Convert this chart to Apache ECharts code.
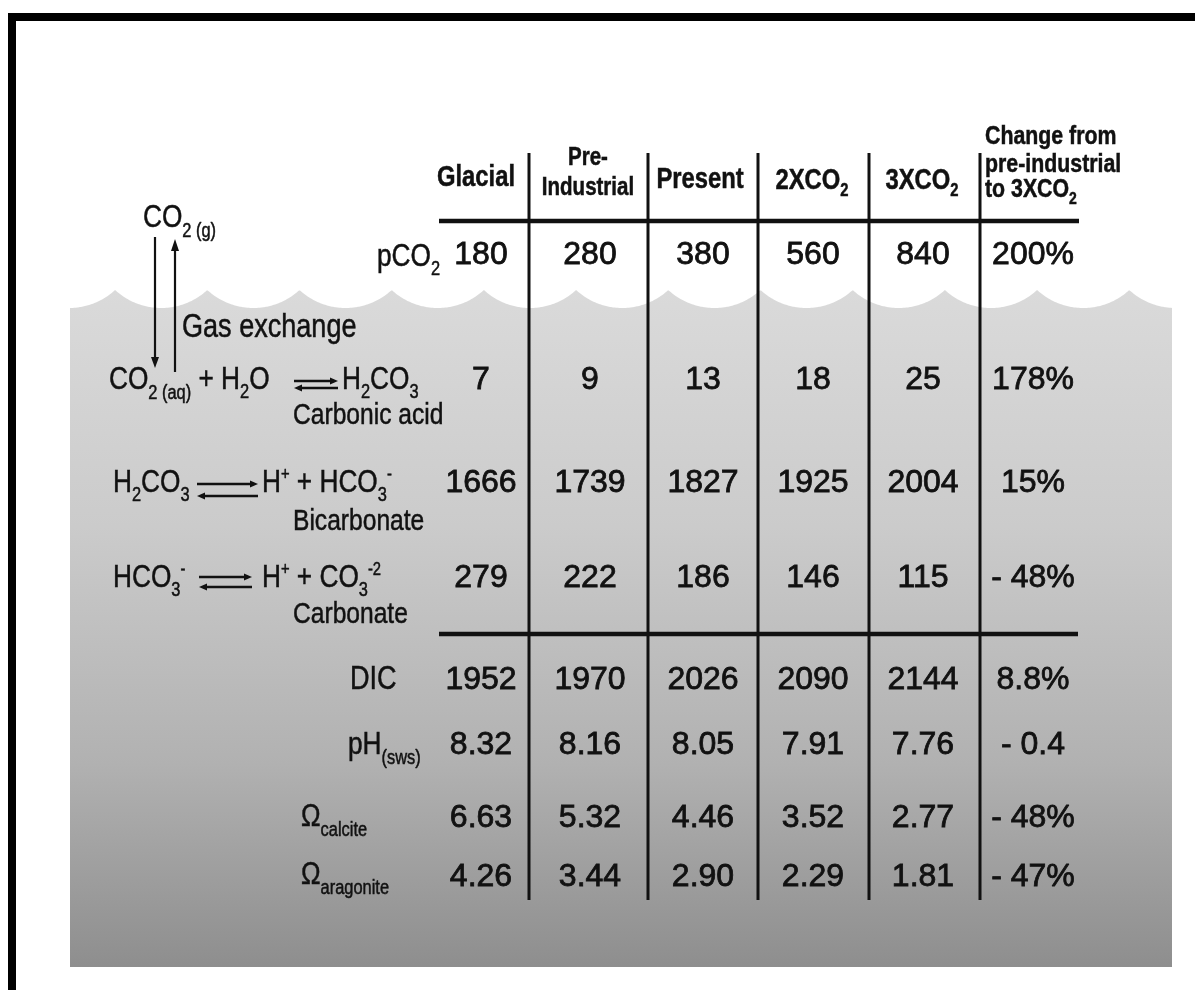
<!DOCTYPE html>
<html>
<head>
<meta charset="utf-8">
<script src="https://cdn.jsdelivr.net/npm/echarts@6/dist/echarts.min.js"></script>
<style>
html,body{margin:0;padding:0;background:#ffffff;}
#c{width:1195px;height:990px;}
</style>
</head>
<body>
<div id="c"></div>
<script>
// ---------------- DATA ----------------
const columns = ['Glacial', 'Pre-Industrial', 'Present', '2XCO2', '3XCO2', 'Change from pre-industrial to 3XCO2'];
const rowNames = ['pCO2', 'CO2(aq)', 'HCO3-', 'CO3-2', 'DIC', 'pH(sws)', 'Omega calcite', 'Omega aragonite'];
const pco2 = [180, 280, 380, 560, 840];
const co2aq = [7, 9, 13, 18, 25];
const bicarbonate = [1666, 1739, 1827, 1925, 2004];
const carbonate = [279, 222, 186, 146, 115];
const dic = [1952, 1970, 2026, 2090, 2144];
const phSws = [8.32, 8.16, 8.05, 7.91, 7.76];
const omegaCalcite = [6.63, 5.32, 4.46, 3.52, 2.77];
const omegaAragonite = [4.26, 3.44, 2.90, 2.29, 1.81];
const changeFromPreIndustrial = ['200%', '178%', '15%', '- 48%', '8.8%', '- 0.4', '- 48%', '- 47%'];
const rowDecimals = [0, 0, 0, 0, 0, 2, 2, 2];

// ---------------- LAYOUT (positions / styles) ----------------
const W = 1195, H = 990;
const colX = [481, 590, 703, 813, 923, 1033];
const rowY = [255, 380, 483, 578, 680, 745, 818, 877];
const colRules = [529, 648, 758, 869, 980];
const ruleTop = 153, ruleBottom = 900;
const hRules = [{y: 221, x1: 439, x2: 1079}, {y: 634, x1: 439, x2: 1078}];
const OCEAN = {left: 70, right: 1172, flat: 308, crest: 290, bottom: 967, firstMid: 69, period: 92.2};
const INK = '#111111';
const SANS = "'Liberation Sans', Arial, sans-serif";
const NARROW_SCALE = 0.82;

const richStyles = {
  m: {fontSize: 32, fontFamily: SANS, fill: INK},
  s: {fontSize: 20, fontFamily: SANS, fill: INK, padding: [24, 0, 0, 0]},
  w: {fontSize: 20, fontFamily: SANS, fill: INK, padding: [26, 0, 0, 0]},
  p: {fontSize: 18, fontFamily: SANS, fill: INK, padding: [0, 0, 16, 0]},
  l: {fontSize: 33, fontFamily: SANS, fill: INK},
  n: {fontSize: 30, fontFamily: SANS, fill: INK},
  h: {fontSize: 29, fontFamily: SANS, fontWeight: 'bold', fill: INK},
  hs: {fontSize: 18, fontFamily: SANS, fontWeight: 'bold', fill: INK, padding: [20, 0, 0, 0]},
  k: {fontSize: 25, fontFamily: SANS, fontWeight: 'bold', fill: INK},
  c: {fontSize: 26, fontFamily: SANS, fontWeight: 'bold', fill: INK},
  cs: {fontSize: 17, fontFamily: SANS, fontWeight: 'bold', fill: INK, padding: [18, 0, 0, 0]}
};

// header labels (text from columns)
const headerLabels = [
  {x: 476, y: 178, align: 'center', text: '{h|' + columns[0] + '}'},
  {x: 588, y: 158, align: 'center', text: '{k|' + columns[1].split('-')[0] + '-}'},
  {x: 588, y: 188, align: 'center', text: '{k|' + columns[1].split('-')[1] + '}'},
  {x: 700, y: 180, align: 'center', text: '{h|' + columns[2] + '}'},
  {x: 812, y: 181, align: 'center', text: '{h|2XCO}{hs|2}'},
  {x: 922, y: 181, align: 'center', text: '{h|3XCO}{hs|2}'},
  {x: 985, y: 137, align: 'left', text: '{c|Change from}'},
  {x: 985, y: 165, align: 'left', text: '{c|pre-industrial}'},
  {x: 985, y: 190, align: 'left', text: '{c|to 3XCO}{cs|2}'}
];

// left-hand chemistry labels
const sideLabels = [
  {x: 143, y: 218, align: 'left', text: '{m|CO}{w|2 (g)}'},
  {x: 440, y: 257, align: 'right', text: '{m|pCO}{s|2}'},
  {x: 182, y: 328, align: 'left', text: '{l|Gas exchange}'},
  {x: 109, y: 380, align: 'left', text: '{m|CO}{w|2 (aq)}{m| + H}{s|2}{m|O}'},
  {x: 342, y: 380, align: 'left', text: '{m|H}{s|2}{m|CO}{s|3}'},
  {x: 293, y: 416, align: 'left', text: '{n|Carbonic acid}'},
  {x: 113, y: 483, align: 'left', text: '{m|H}{s|2}{m|CO}{s|3}'},
  {x: 262, y: 483, align: 'left', text: '{m|H}{p|+}{m| + HCO}{s|3}{p|-}'},
  {x: 293, y: 522, align: 'left', text: '{n|Bicarbonate}'},
  {x: 113, y: 578, align: 'left', text: '{m|HCO}{s|3}{p|-}'},
  {x: 262, y: 578, align: 'left', text: '{m|H}{p|+}{m| + CO}{s|3}{p|-2}'},
  {x: 293, y: 615, align: 'left', text: '{n|Carbonate}'},
  {x: 350, y: 680, align: 'left', text: '{l|DIC}'},
  {x: 348, y: 745, align: 'left', text: '{m|pH}{w|(sws)}'},
  {x: 301, y: 817, align: 'left', text: '{m|Ω}{w|calcite}'},
  {x: 301, y: 875, align: 'left', text: '{m|Ω}{w|aragonite}'}
];

const eqArrows = [
  {x1: 294, x2: 338, yTop: 381, yBot: 388},
  {x1: 197, x2: 258, yTop: 484, yBot: 496},
  {x1: 199, x2: 252, yTop: 577, yBot: 587}
];

// ---------------- BUILD CELLS FROM DATA ----------------
const rowSeries = [pco2, co2aq, bicarbonate, carbonate, dic, phSws, omegaCalcite, omegaAragonite];
const cells = [];
rowSeries.forEach(function (vals, r) {
  vals.forEach(function (v, c) {
    cells.push({x: colX[c], y: rowY[r], text: v.toFixed(rowDecimals[r])});
  });
  cells.push({x: colX[5], y: rowY[r], text: changeFromPreIndustrial[r]});
});

// ---------------- RENDERERS ----------------
function P(api, x, y) { return api.coord([x, y]); }

function renderFrame(params, api) {
  const a = P(api, 8, 13), b = P(api, 16, H), c = P(api, W, 21);
  return {type: 'group', children: [
    {type: 'rect', shape: {x: a[0], y: a[1], width: b[0] - a[0], height: b[1] - a[1]}, style: {fill: '#000'}},
    {type: 'rect', shape: {x: a[0], y: a[1], width: c[0] - a[0], height: c[1] - a[1]}, style: {fill: '#000'}}
  ]};
}

function renderOcean(params, api) {
  const o = OCEAN;
  const half = o.period / 2;
  const sag = o.flat - o.crest;
  const r = (half * half + sag * sag) / (2 * sag);
  const pts = [];
  for (let x = o.left; x <= o.right; x += 1) {
    const k = Math.round((x - o.firstMid) / o.period);
    const dx = x - (o.firstMid + k * o.period);
    const y = o.flat - r + Math.sqrt(Math.max(0, r * r - dx * dx));
    pts.push(P(api, x, y));
  }
  pts.push(P(api, o.right, o.bottom));
  pts.push(P(api, o.left, o.bottom));
  return {type: 'polygon', shape: {points: pts}, style: {
    fill: new echarts.graphic.LinearGradient(0, 0, 0, 1, [
      {offset: 0, color: '#dadada'},
      {offset: 0.35, color: '#cbcbcb'},
      {offset: 0.7, color: '#b1b1b1'},
      {offset: 1, color: '#8e8e8e'}
    ])
  }};
}

function lineEl(api, x1, y1, x2, y2, w) {
  const a = P(api, x1, y1), b = P(api, x2, y2);
  return {type: 'line', shape: {x1: a[0], y1: a[1], x2: b[0], y2: b[1]}, style: {stroke: INK, lineWidth: w}};
}
function triEl(api, pts) {
  return {type: 'polygon', shape: {points: pts.map(function (p) { return P(api, p[0], p[1]); })}, style: {fill: INK}};
}

function renderRules(params, api) {
  const ch = [];
  colRules.forEach(function (x) { ch.push(lineEl(api, x, ruleTop, x, ruleBottom, 3)); });
  hRules.forEach(function (h) { ch.push(lineEl(api, h.x1, h.y, h.x2, h.y, 4.5)); });
  return {type: 'group', children: ch};
}

function renderArrows(params, api) {
  const ch = [];
  // gas exchange
  ch.push(lineEl(api, 155, 237, 155, 360, 2.2));
  ch.push(triEl(api, [[151, 357], [159, 357], [155, 368]]));
  ch.push(lineEl(api, 175, 372, 175, 249, 2.2));
  ch.push(triEl(api, [[171, 251], [179, 251], [175, 239]]));
  // equilibrium arrows
  eqArrows.forEach(function (e) {
    ch.push(lineEl(api, e.x1, e.yTop, e.x2 - 6, e.yTop, 2.6));
    ch.push(triEl(api, [[e.x2 - 8, e.yTop - 3.5], [e.x2, e.yTop], [e.x2 - 8, e.yTop + 3.5]]));
    ch.push(lineEl(api, e.x1 + 6, e.yBot, e.x2, e.yBot, 2.6));
    ch.push(triEl(api, [[e.x1 + 8, e.yBot - 3.5], [e.x1, e.yBot], [e.x1 + 8, e.yBot + 3.5]]));
  });
  return {type: 'group', children: ch};
}

function richTextRenderer(list) {
  return function (params, api) {
    const d = list[params.dataIndex];
    const pt = P(api, d.x, d.y);
    return {type: 'text', x: pt[0], y: pt[1], scaleX: NARROW_SCALE, scaleY: 1, style: {
      text: d.text, rich: richStyles, fill: INK, fontFamily: SANS, fontSize: 30,
      align: d.align, verticalAlign: 'middle', stroke: INK, lineWidth: 0.5
    }};
  };
}

function renderCell(params, api) {
  const d = cells[params.dataIndex];
  const pt = P(api, d.x, d.y);
  return {type: 'text', x: pt[0], y: pt[1], style: {
    text: d.text, fill: INK, fontFamily: SANS, fontSize: 32,
    align: 'center', verticalAlign: 'middle', stroke: INK, lineWidth: 0.8
  }};
}

const chart = echarts.init(document.getElementById('c'), null, {renderer: 'canvas', width: W, height: H});
const one = [[0, 0]];
chart.setOption({
  animation: false,
  backgroundColor: '#ffffff',
  grid: {left: 0, right: 0, top: 0, bottom: 0},
  xAxis: {type: 'value', min: 0, max: W, show: false},
  yAxis: {type: 'value', min: 0, max: H, inverse: true, show: false},
  series: [
    {type: 'custom', name: 'frame', silent: true, data: one, renderItem: renderFrame},
    {type: 'custom', name: 'ocean', silent: true, data: one, renderItem: renderOcean},
    {type: 'custom', name: 'rules', silent: true, data: one, renderItem: renderRules},
    {type: 'custom', name: 'arrows', silent: true, data: one, renderItem: renderArrows},
    {type: 'custom', name: 'headers', silent: true, data: headerLabels.map(function (d) { return [d.x, d.y]; }), renderItem: richTextRenderer(headerLabels)},
    {type: 'custom', name: 'labels', silent: true, data: sideLabels.map(function (d) { return [d.x, d.y]; }), renderItem: richTextRenderer(sideLabels)},
    {type: 'custom', name: 'values', silent: true, data: cells.map(function (d) { return [d.x, d.y]; }), renderItem: renderCell}
  ]
});
</script>
</body>
</html>
